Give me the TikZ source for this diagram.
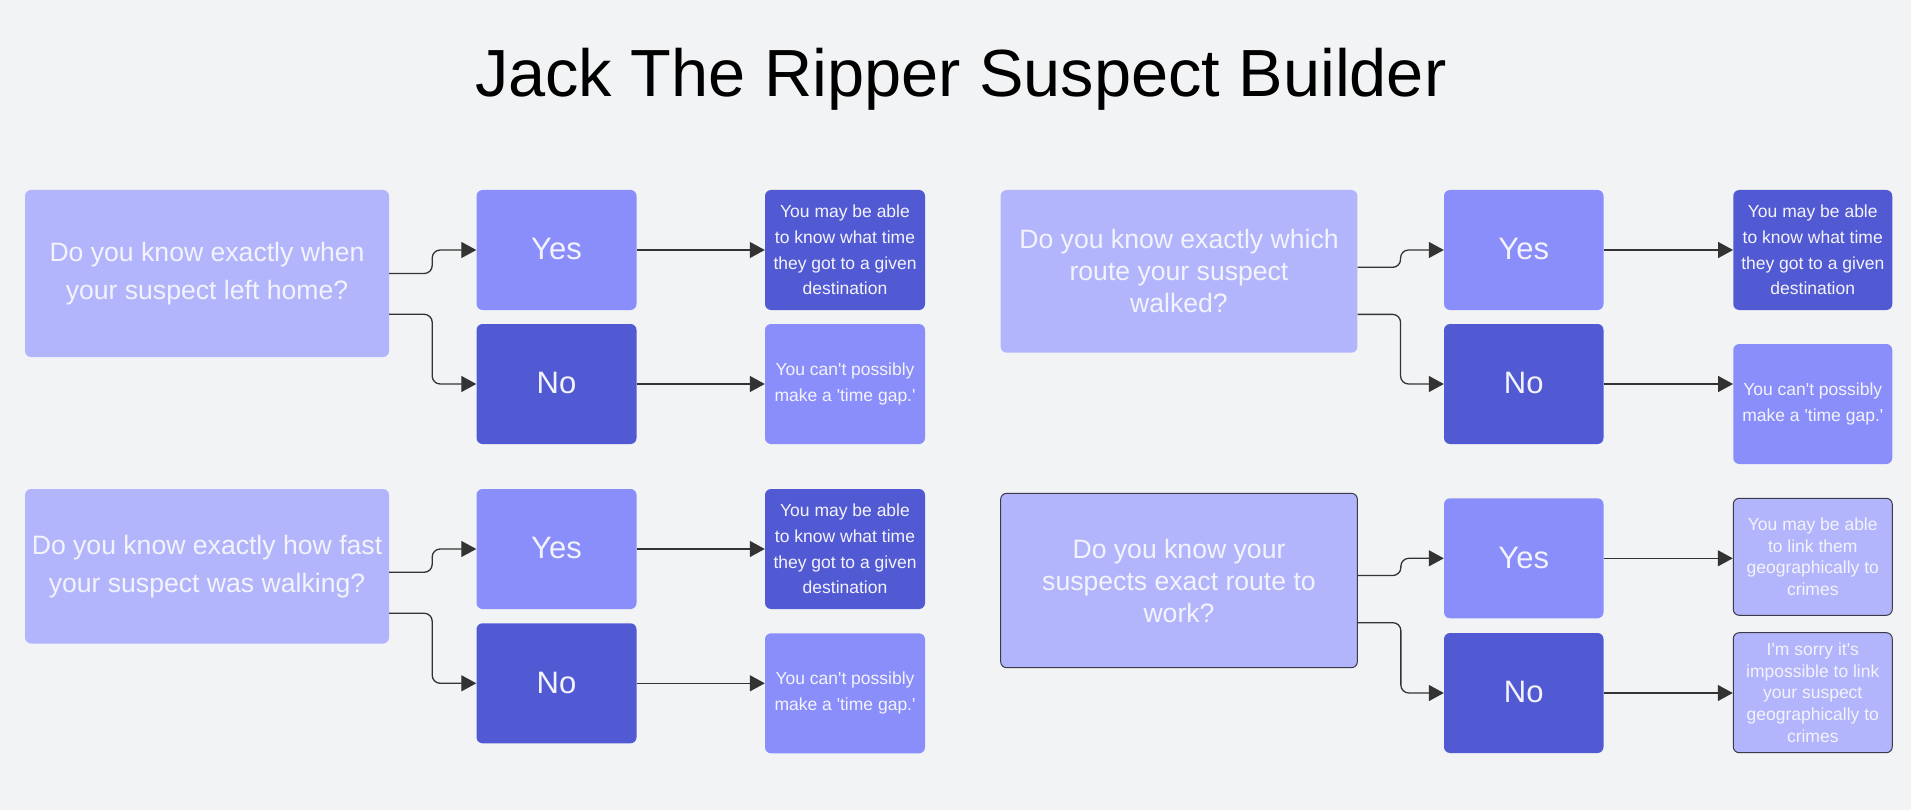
\documentclass[tikz,border=0pt]{standalone}
\usepackage{fontspec}
\setmainfont{Liberation Sans}
\usetikzlibrary{arrows.meta}
\definecolor{bg}{HTML}{F2F3F5}
\definecolor{qcol}{HTML}{B3B5FC}
\definecolor{ycol}{HTML}{8A8EFA}
\definecolor{dcol}{HTML}{525AD3}
\definecolor{tcol}{HTML}{F3F3FB}
\definecolor{lcol}{HTML}{333333}
\definecolor{bcol}{HTML}{3A3A48}
\newcommand{\sq}{\textquotesingle}
\begin{document}
\begin{tikzpicture}[x=1pt,y=-1pt,
  box/.style={rectangle, rounded corners=6pt, inner sep=0pt, align=center, text=tcol},
  qbox/.style={box, fill=qcol, minimum width=364pt, font=\fontsize{26.6}{38}\selectfont},
  qboxr/.style={box, fill=qcol, minimum width=356.7pt, font=\fontsize{26.6}{32}\selectfont},
  yesbox/.style={box, fill=ycol, minimum width=160pt, minimum height=120pt, font=\fontsize{31}{34}\selectfont},
  nobox/.style={box, fill=dcol, minimum width=160pt, minimum height=120pt, font=\fontsize{31}{34}\selectfont},
  rdark/.style={box, fill=dcol, minimum width=160pt, minimum height=120pt, font=\fontsize{17.5}{25.7}\selectfont},
  rlight/.style={box, fill=ycol, minimum width=160pt, minimum height=120pt, font=\fontsize{17.5}{25.7}\selectfont},
  rpale/.style={box, fill=qcol, draw=bcol, line width=1pt, minimum width=159pt, font=\fontsize{17.5}{21.6}\selectfont},
  conn/.style={draw=lcol, line width=1.3pt, rounded corners=8pt, -{Triangle[length=15pt,width=16pt]}},
  arr/.style={draw=lcol, line width=1.3pt, -{Triangle[length=15pt,width=16pt]}}
]
\path[use as bounding box, fill=bg] (0,0) rectangle (1911,810);

\node[anchor=base, font=\fontsize{66.7}{70}\selectfont, text=black] (title) at (960.75,96.7) {Jack The Ripper Suspect Builder};

% ---- left top
\node[qbox, minimum height=167pt] (q1) at (207,273.5) {Do you know exactly when\\your suspect left home?};
\node[yesbox] (y1) at (556.5,250) {\raisebox{1.5pt}{Yes}};
\node[nobox] (n1) at (556.5,384) {\raisebox{1.5pt}{No}};
\node[rdark] (r1a) at (845,250) {You may be able\\to know what time\\they got to a given\\destination};
\node[rlight] (r1b) at (845,384) {You can\sq t possibly\\make a \sq time gap.\sq};

% ---- left bottom
\node[qbox, minimum height=154.5pt] (q3) at (207,566.25) {Do you know exactly how fast\\your suspect was walking?};
\node[yesbox] (y3) at (556.5,549) {\raisebox{1.5pt}{Yes}};
\node[nobox] (n3) at (556.5,683.3) {\raisebox{1.5pt}{No}};
\node[rdark] (r3a) at (845,549) {You may be able\\to know what time\\they got to a given\\destination};
\node[rlight] (r3b) at (845,693.3) {You can\sq t possibly\\make a \sq time gap.\sq};

% ---- right top
\node[qboxr, minimum height=162.7pt] (q2) at (1179,271.35) {Do you know exactly which\\route your suspect\\walked?};
\node[yesbox, minimum width=159.5pt] (y2) at (1523.75,250) {\raisebox{1.5pt}{Yes}};
\node[nobox, minimum width=159.5pt] (n2) at (1523.75,384) {\raisebox{1.5pt}{No}};
\node[rdark, minimum width=159pt] (r2a) at (1812.75,250) {You may be able\\to know what time\\they got to a given\\destination};
\node[rlight, minimum width=159pt] (r2b) at (1812.75,404) {You can\sq t possibly\\make a \sq time gap.\sq};

% ---- right bottom
\node[qboxr, draw=bcol, line width=1pt, minimum height=174.4pt] (q4) at (1179,580.5) {Do you know your\\suspects exact route to\\work?};
\node[yesbox, minimum width=159.5pt] (y4) at (1523.75,558.3) {\raisebox{1.5pt}{Yes}};
\node[nobox, minimum width=159.5pt] (n4) at (1523.75,693) {\raisebox{1.5pt}{No}};
\node[rpale, minimum height=117pt] (r4a) at (1812.75,556.8) {You may be able\\to link them\\geographically to\\crimes};
\node[rpale, minimum height=120pt] (r4b) at (1812.75,692.7) {I\sq m sorry it\sq s\\impossible to link\\your suspect\\geographically to\\crimes};

% ---- connectors
\draw[conn] ([yshift=0pt]q1.east) -- ++(43,0) |- (y1.west);
\draw[conn] ([yshift=-40.8pt]q1.east) -- ++(43,0) |- (n1.west);
\draw[conn] ([yshift=-6pt]q3.east) -- ++(43,0) |- (y3.west);
\draw[conn] ([yshift=-47pt]q3.east) -- ++(43,0) |- (n3.west);
\draw[conn] ([yshift=4pt]q2.east) -- ++(43,0) |- (y2.west);
\draw[conn] ([yshift=-43pt]q2.east) -- ++(43,0) |- (n2.west);
\draw[conn] ([yshift=5pt]q4.east) -- ++(43,0) |- (y4.west);
\draw[conn] ([yshift=-42.2pt]q4.east) -- ++(43,0) |- (n4.west);

\draw[arr] (y1.east) -- (y1.east -| r1a.west);
\draw[arr] (n1.east) -- (n1.east -| r1b.west);
\draw[arr] (y3.east) -- (y3.east -| r3a.west);
\draw[arr] (n3.east) -- (n3.east -| r3b.west);
\draw[arr] (y2.east) -- (y2.east -| r2a.west);
\draw[arr] (n2.east) -- (n2.east -| r2b.west);
\draw[arr] (y4.east) -- (y4.east -| r4a.west);
\draw[arr] (n4.east) -- (n4.east -| r4b.west);
\end{tikzpicture}
\end{document}
